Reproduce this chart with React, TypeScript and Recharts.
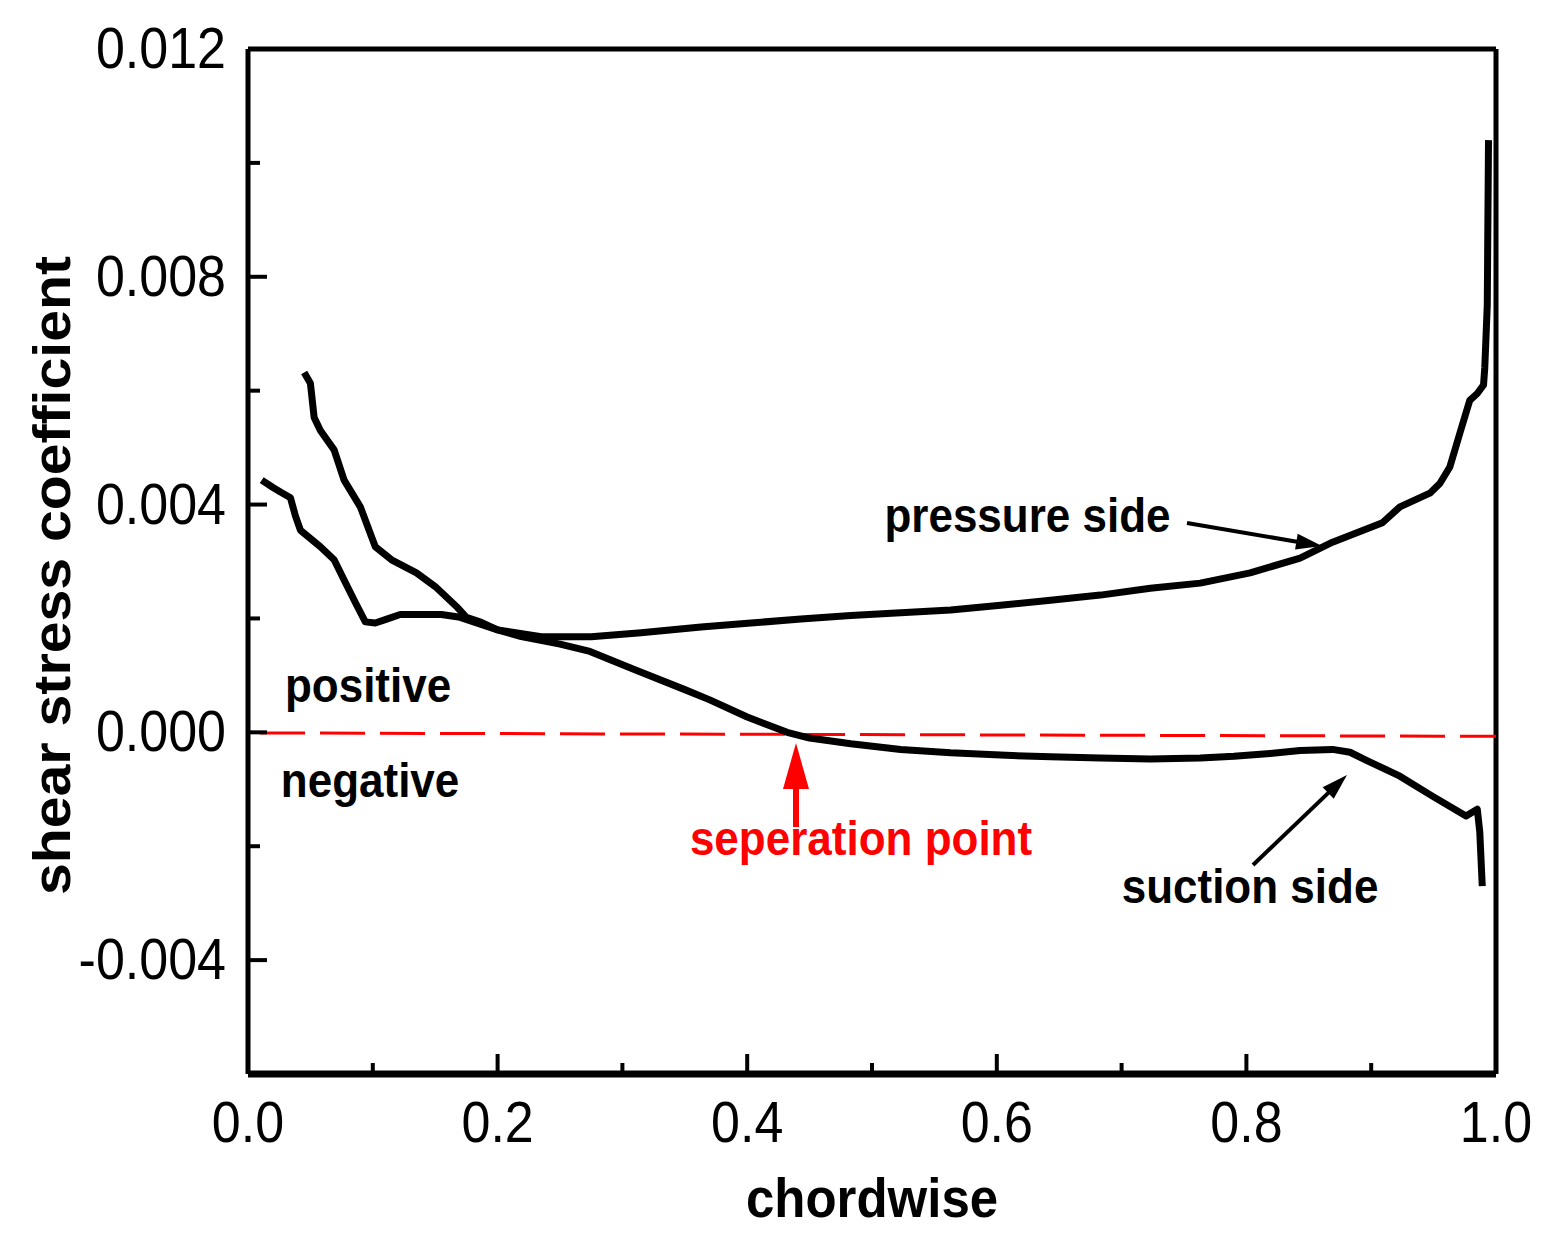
import React from 'react';
import { Label, Line, LineChart, ReferenceDot, ReferenceLine, XAxis, YAxis } from 'recharts';

const FONT = '"Liberation Sans", Arial, sans-serif';

// pressure side curve (chordwise position, shear stress coefficient)
const pressureX = [
  0.011, 0.02, 0.026, 0.034, 0.038, 0.042, 0.058, 0.069, 0.078, 0.086, 0.094, 0.102, 0.11,
  0.122, 0.155, 0.17, 0.2, 0.235, 0.275, 0.315, 0.363, 0.403, 0.443, 0.483, 0.523, 0.563,
  0.603, 0.643, 0.683, 0.723, 0.763, 0.803, 0.843, 0.869, 0.909, 0.923, 0.947, 0.955, 0.963,
  0.971, 0.979, 0.985, 0.99, 0.991, 0.993, 0.994,
];
const pressureY = [
  0.00443, 0.0043, 0.00422, 0.00412, 0.0038, 0.00355, 0.00326, 0.00303, 0.00263, 0.00228,
  0.00194, 0.00192, 0.00198, 0.00207, 0.00207, 0.00202, 0.0018, 0.00168, 0.00168, 0.00175,
  0.00185, 0.00192, 0.00199, 0.00205, 0.0021, 0.00215, 0.00223, 0.00232, 0.00241, 0.00253,
  0.00262, 0.0028, 0.00306, 0.00334, 0.00368, 0.00396, 0.0042, 0.00437, 0.00466, 0.00525,
  0.00583, 0.00595, 0.0061, 0.0064, 0.0075, 0.0104,
];

// suction side curve
const suctionX = [
  0.045, 0.05, 0.053, 0.058, 0.069, 0.077, 0.09, 0.102, 0.115, 0.135, 0.15, 0.167, 0.175,
  0.187, 0.2, 0.219, 0.25, 0.274, 0.31, 0.35, 0.37, 0.4, 0.432, 0.45, 0.483, 0.523, 0.563,
  0.603, 0.643, 0.683, 0.723, 0.763, 0.79, 0.819, 0.843, 0.869, 0.883, 0.897, 0.923, 0.949,
  0.976, 0.985, 0.987, 0.989,
];
const suctionY = [
  0.00632, 0.00613, 0.00553, 0.0053, 0.00496, 0.00443, 0.00396, 0.00326, 0.00303, 0.0028,
  0.00256, 0.00221, 0.00202, 0.00193, 0.0018, 0.00168, 0.00155, 0.00142, 0.0011, 0.00075,
  0.00057, 0.00027, 0.0, -0.0001, -0.0002, -0.0003, -0.00036, -0.0004, -0.00043, -0.00045,
  -0.00047, -0.00045, -0.00042, -0.00037, -0.00032, -0.0003, -0.00035, -0.0005, -0.00077,
  -0.00112, -0.00147, -0.00135, -0.00175, -0.0027,
];

const xTicks = [0, 0.1, 0.2, 0.3, 0.4, 0.5, 0.6, 0.7, 0.8, 0.9, 1.0];
const yTicks = [-0.004, -0.002, 0, 0.002, 0.004, 0.006, 0.008, 0.01, 0.012];

const pressureData = pressureX.map((x, i) => ({ x, y: pressureY[i] }));
const suctionData = suctionX.map((x, i) => ({ x, y: suctionY[i] }));

// text notes, anchored at baseline centre in data units
const notes = [
  { text: 'pressure side', x: 0.6246, y: 0.00352, color: '#000' },
  { text: 'suction side', x: 0.8029, y: -0.003, color: '#000' },
  { text: 'positive', x: 0.0962, y: 0.00053, color: '#000' },
  { text: 'negative', x: 0.0978, y: -0.00114, color: '#000' },
  { text: 'seperation point', x: 0.4912, y: -0.00215, color: '#f00' },
];

const arrows = [
  { from: [0.7524, 0.003676], to: [0.8606, 0.003272], color: '#000', shaft: 4, head: 26, wide: 16 },
  { from: [0.8053, -0.00233], to: [0.8806, -0.00075], color: '#000', shaft: 4, head: 26, wide: 16 },
  { from: [0.4391, -0.001663], to: [0.4391, -0.000188], color: '#f00', shaft: 6, head: 46, wide: 26 },
];

const XTick = (props: any) => {
  const { x, y, payload } = props;
  const v = payload.value as number;
  const major = Math.round(v * 10) % 2 === 0;
  return (
    <g>
      <line x1={x} y1={y} x2={x} y2={y - (major ? 20 : 11)} stroke="#000" strokeWidth={4} />
      {major && (
        <text
          transform={`translate(${x},${y + 68}) scale(1,1.1)`}
          textAnchor="middle"
          fontSize={52}
          fontFamily={FONT}
          fill="#000"
        >
          {v.toFixed(1)}
        </text>
      )}
    </g>
  );
};

const YTick = (props: any) => {
  const { x, y, payload } = props;
  const v = payload.value as number;
  const major = Math.abs(v / 0.004 - Math.round(v / 0.004)) < 1e-6;
  return (
    <g>
      <line x1={x} y1={y} x2={x + (major ? 19 : 12)} y2={y} stroke="#000" strokeWidth={4} />
      {major && (
        <text
          transform={`translate(${x - 22},${y + 19}) scale(1,1.1)`}
          textAnchor="end"
          fontSize={52}
          fontFamily={FONT}
          fill="#000"
        >
          {v.toFixed(3)}
        </text>
      )}
    </g>
  );
};

const arrowShape = (color: string, shaft: number, head: number, wide: number) => (p: any) => {
  const { x1, y1, x2, y2 } = p;
  const len = Math.hypot(x2 - x1, y2 - y1) || 1;
  const ux = (x2 - x1) / len;
  const uy = (y2 - y1) / len;
  const bx = x2 - ux * head;
  const by = y2 - uy * head;
  const px = (-uy * wide) / 2;
  const py = (ux * wide) / 2;
  return (
    <g>
      <line x1={x1} y1={y1} x2={bx + ux * 2} y2={by + uy * 2} stroke={color} strokeWidth={shaft} />
      <polygon points={`${x2},${y2} ${bx + px},${by + py} ${bx - px},${by - py}`} fill={color} />
    </g>
  );
};

const noteShape = (text: string, color: string) => (p: any) => (
  <text
    transform={`translate(${p.cx},${p.cy}) scale(1,1.1)`}
    textAnchor="middle"
    fontSize={44}
    fontWeight="bold"
    fontFamily={FONT}
    fill={color}
  >
    {text}
  </text>
);

export default function App() {
  return (
    <div style={{ position: 'absolute', left: 0, top: 0, width: 1551, height: 1236, background: '#fff' }}>
      <LineChart width={1551} height={1236} margin={{ top: 49, right: 55, bottom: 132, left: 188 }}>
        <XAxis
          type="number"
          dataKey="x"
          domain={[0, 1]}
          ticks={xTicks}
          interval={0}
          height={30}
          tickSize={0}
          tickMargin={0}
          tickLine={false}
          tick={<XTick />}
          axisLine={{ stroke: '#000', strokeWidth: 7 }}
          allowDataOverflow
        >
          <Label
            content={(p: any) => {
              const vb = p.viewBox || { x: 248, y: 1074, width: 1248 };
              return (
                <text
                  transform={`translate(${vb.x + vb.width / 2},${vb.y + 143}) scale(1,1.1)`}
                  textAnchor="middle"
                  fontSize={51}
                  fontWeight="bold"
                  fontFamily={FONT}
                  fill="#000"
                >
                  chordwise
                </text>
              );
            }}
          />
        </XAxis>
        <YAxis
          type="number"
          domain={[-0.006, 0.012]}
          ticks={yTicks}
          interval={0}
          width={60}
          tickSize={0}
          tickMargin={0}
          tickLine={false}
          tick={<YTick />}
          axisLine={{ stroke: '#000', strokeWidth: 5 }}
          allowDataOverflow
        >
          <Label
            content={(p: any) => {
              const vb = p.viewBox || { x: 188, y: 49, width: 60, height: 1025 };
              return (
                <text
                  transform={`translate(${vb.x + vb.width - 178},${vb.y + vb.height / 2 + 14}) scale(1,1.1) rotate(-90)`}
                  textAnchor="middle"
                  fontSize={52}
                  fontWeight="bold"
                  fontFamily={FONT}
                  fill="#000"
                >
                  shear stress coefficient
                </text>
              );
            }}
          />
        </YAxis>
        <ReferenceLine y={0.012} stroke="#000" strokeWidth={5} />
        <ReferenceLine x={1} stroke="#000" strokeWidth={5} />
        <ReferenceLine
          segment={[
            { x: 0, y: -0.00001 },
            { x: 1, y: -0.00007 },
          ]}
          stroke="#f00"
          strokeWidth={3}
          strokeDasharray="45 15"
          strokeDashoffset={48}
        />
        <Line
          data={pressureData}
          dataKey="y"
          type="linear"
          stroke="#000"
          strokeWidth={7}
          strokeLinejoin="round"
          dot={false}
          activeDot={false}
          isAnimationActive={false}
        />
        <Line
          data={suctionData}
          dataKey="y"
          type="linear"
          stroke="#000"
          strokeWidth={7}
          strokeLinejoin="round"
          dot={false}
          activeDot={false}
          isAnimationActive={false}
        />
        {arrows.map((a, i) => (
          <ReferenceLine
            key={`arrow-${i}`}
            segment={[
              { x: a.from[0], y: a.from[1] },
              { x: a.to[0], y: a.to[1] },
            ]}
            shape={arrowShape(a.color, a.shaft, a.head, a.wide)}
          />
        ))}
        {notes.map((n) => (
          <ReferenceDot key={n.text} x={n.x} y={n.y} r={0} shape={noteShape(n.text, n.color)} />
        ))}
      </LineChart>
    </div>
  );
}
